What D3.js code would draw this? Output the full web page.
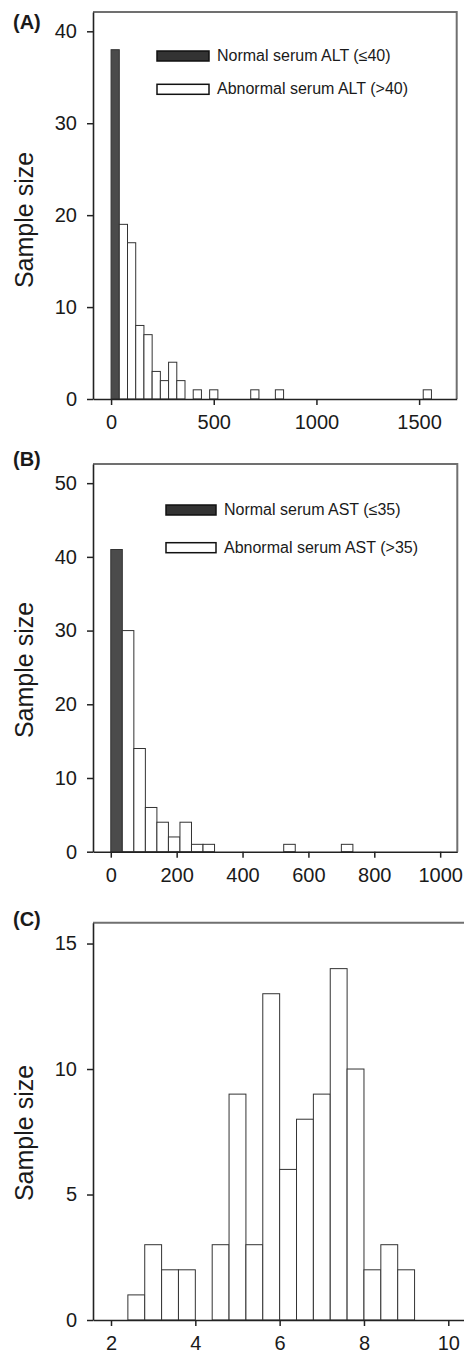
<!DOCTYPE html>
<html>
<head>
<meta charset="utf-8">
<script src="https://cdn.jsdelivr.net/npm/d3@7"></script>
<style>
  body { margin: 0; background: #fff; }
  svg text { font-family: "Liberation Sans", Arial, sans-serif; fill: #1a1a1a; }
  .tick text { font-size: 20px; }
  .tick line { stroke: #222; stroke-width: 1.5; }
  .domain { stroke: #222; stroke-width: 1.6; }
  .frame { fill: none; stroke: #707070; stroke-width: 2; }
  .bar { stroke: #333; stroke-width: 1; }
  .barNormal { fill: #4b4b4b; }
  .barAbnormal { fill: #fff; }
</style>
</head>
<body>
<div id="chart"></div>
<script>
// (A) serum ALT, bins 40 wide
const altNormalBins = [0];
const altNormalCounts = [38];
const altAbnormalBins = [40, 80, 120, 160, 200, 240, 280, 320, 400, 480, 680, 800, 1520];
const altAbnormalCounts = [19, 17, 8, 7, 3, 2, 4, 2, 1, 1, 1, 1, 1];
const altBinWidth = 40;
const altXTicks = [0, 500, 1000, 1500];
const altYTicks = [0, 10, 20, 30, 40];
const altXDomain = [-88, 1683];
const altYDomain = [0, 42.1];
const altLegend = ["Normal serum ALT (\u226440)", "Abnormal serum ALT (>40)"];

// (B) serum AST, bins 35 wide
const astNormalBins = [0];
const astNormalCounts = [41];
const astAbnormalBins = [35, 70, 105, 140, 175, 210, 245, 280, 525, 700];
const astAbnormalCounts = [30, 14, 6, 4, 2, 4, 1, 1, 1, 1];
const astBinWidth = 35;
const astXTicks = [0, 200, 400, 600, 800, 1000];
const astYTicks = [0, 10, 20, 30, 40, 50];
const astXDomain = [-54, 1052];
const astYDomain = [0, 52.6];
const astLegend = ["Normal serum AST (\u226435)", "Abnormal serum AST (>35)"];

// (C) bins 0.4 wide
const cBins = [2.4, 2.8, 3.2, 3.6, 4.4, 4.8, 5.2, 5.6, 6.0, 6.4, 6.8, 7.2, 7.6, 8.0, 8.4, 8.8];
const cCounts = [1, 3, 2, 2, 3, 9, 3, 13, 6, 8, 9, 14, 10, 2, 3, 2];
const cBinWidth = 0.4;
const cXTicks = [2, 4, 6, 8, 10];
const cYTicks = [0, 5, 10, 15];
const cXDomain = [1.573, 10.42];
const cYDomain = [0, 15.83];

let svg = d3.select("#chart")
    .append("svg")
    .attr("width", 464)
    .attr("height", 1353);

function drawPanel(p) {
    let x = d3.scaleLinear().domain(p.xDomain).range([p.left, p.right]);
    let y = d3.scaleLinear().domain(p.yDomain).range([p.bottom, p.top]);
    let g = svg.append("g");

    // top + right frame lines
    g.append("path")
        .attr("class", "frame")
        .attr("d", `M${p.left},${p.top}H${p.right}V${p.bottom}`);

    // bars
    p.series.forEach(function(s) {
        let data = s.bins.map(function(b, i) { return {bin: b, count: s.counts[i]}; });
        g.selectAll(".bar-" + s.cls)
            .data(data)
            .join("rect")
            .attr("class", "bar " + s.cls)
            .attr("x", function(d) { return x(d.bin); })
            .attr("width", function(d) { return x(d.bin + p.binWidth) - x(d.bin); })
            .attr("y", function(d) { return y(d.count); })
            .attr("height", function(d) { return y(0) - y(d.count); });
    });

    // axes
    g.append("g")
        .attr("transform", `translate(0, ${p.bottom})`)
        .call(d3.axisBottom(x).tickValues(p.xTicks).tickFormat(d3.format("d"))
            .tickSize(6).tickSizeOuter(0).tickPadding(10));
    g.append("g")
        .attr("transform", `translate(${p.left}, 0)`)
        .call(d3.axisLeft(y).tickValues(p.yTicks).tickFormat(d3.format("d"))
            .tickSize(6).tickSizeOuter(0).tickPadding(10));

    // y label
    g.append("text")
        .attr("transform", `translate(33, ${p.labelY}) rotate(-90)`)
        .attr("text-anchor", "middle")
        .style("font-size", "25px")
        .text("Sample size");

    // panel letter
    g.append("text")
        .attr("x", 13)
        .attr("y", p.letterY)
        .style("font-size", "20px")
        .style("font-weight", "bold")
        .text(p.letter);

    // legend
    if (p.legend) {
        let L = p.legendPos;
        p.legend.forEach(function(t, i) {
            g.append("rect")
                .attr("x", L.x)
                .attr("y", L.y + i * L.step)
                .attr("width", L.w)
                .attr("height", 10)
                .attr("fill", i == 0 ? "#333" : "#fff")
                .attr("stroke", "#111")
                .attr("stroke-width", 1.5);
            g.append("text")
                .attr("x", L.x + L.w + 8)
                .attr("y", L.y + i * L.step + 10)
                .style("font-size", "16px")
                .text(t);
        });
    }
}

drawPanel({
    left: 93, right: 456.7, top: 12, bottom: 399,
    xDomain: altXDomain, yDomain: altYDomain, xTicks: altXTicks, yTicks: altYTicks,
    binWidth: altBinWidth,
    series: [
        {bins: altNormalBins, counts: altNormalCounts, cls: "barNormal"},
        {bins: altAbnormalBins, counts: altAbnormalCounts, cls: "barAbnormal"}
    ],
    labelY: 220, letter: "(A)", letterY: 29,
    legend: altLegend, legendPos: {x: 157, y: 51, w: 52, step: 33.3}
});

drawPanel({
    left: 93, right: 457.3, top: 464, bottom: 851.7,
    xDomain: astXDomain, yDomain: astYDomain, xTicks: astXTicks, yTicks: astYTicks,
    binWidth: astBinWidth,
    series: [
        {bins: astNormalBins, counts: astNormalCounts, cls: "barNormal"},
        {bins: astAbnormalBins, counts: astAbnormalCounts, cls: "barAbnormal"}
    ],
    labelY: 670, letter: "(B)", letterY: 466,
    legend: astLegend, legendPos: {x: 166, y: 505, w: 50, step: 37.7}
});

drawPanel({
    left: 93, right: 466, top: 922.7, bottom: 1320,
    xDomain: cXDomain, yDomain: cYDomain, xTicks: cXTicks, yTicks: cYTicks,
    binWidth: cBinWidth,
    series: [
        {bins: cBins, counts: cCounts, cls: "barAbnormal"}
    ],
    labelY: 1133, letter: "(C)", letterY: 926
});
</script>
</body>
</html>
